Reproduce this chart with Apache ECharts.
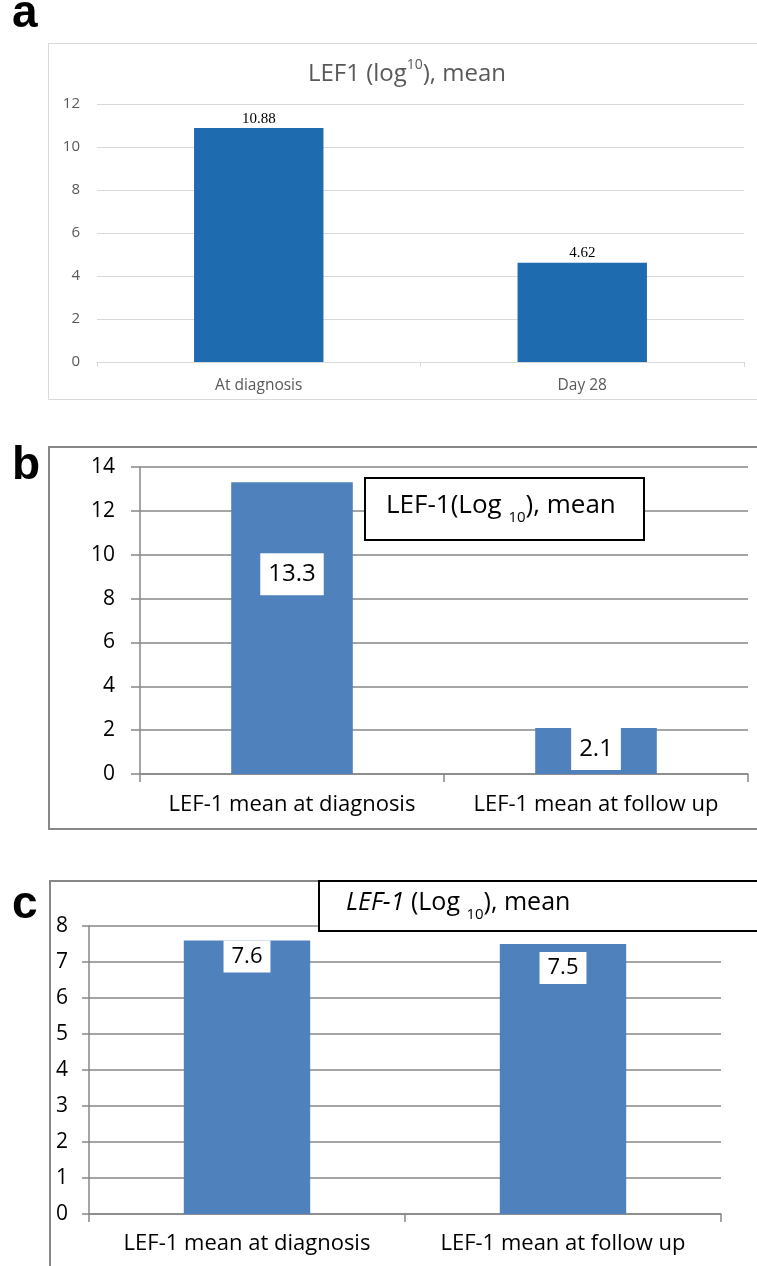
<!DOCTYPE html>
<html>
<head>
<meta charset="utf-8">
<script src="https://cdn.jsdelivr.net/npm/echarts@6/dist/echarts.min.js"></script>
<style>
html,body{margin:0;padding:0;background:#fff;}
#chart{width:757px;height:1266px;}
</style>
</head>
<body>
<div id="chart"></div>
<script>
// ---- Data ----
var catsA = ['At diagnosis', 'Day 28'];
var valsA = [10.88, 4.62];
var ticksA = [0, 2, 4, 6, 8, 10, 12];

var catsB = ['LEF-1 mean at diagnosis', 'LEF-1 mean at follow up'];
var valsB = [13.3, 2.1];
var ticksB = [0, 2, 4, 6, 8, 10, 12, 14];

var catsC = ['LEF-1 mean at diagnosis', 'LEF-1 mean at follow up'];
var valsC = [7.6, 7.5];
var ticksC = [0, 1, 2, 3, 4, 5, 6, 7, 8];

// label offsets (style, not data)
var labelDistB = [71, 0];
var labelDistC = [0, 8];

var SANS = '"Open Sans", "Noto Sans", sans-serif';
var chart = echarts.init(document.getElementById('chart'), null, {renderer: 'canvas'});

function boxedData(vals, dists, fs, pad) {
  return vals.map(function (v, i) {
    return {
      value: v,
      label: {
        show: true, position: 'insideTop', distance: dists[i],
        backgroundColor: '#fff', color: '#000', fontFamily: SANS,
        fontSize: fs, lineHeight: fs + 6, padding: pad
      }
    };
  });
}

var option = {
  animation: false,
  backgroundColor: '#fff',
  grid: [
    {left: 97, right: 13, top: 104, height: 258},
    {left: 140, right: 9, top: 467, height: 307},
    {left: 89, right: 36, top: 926, height: 288}
  ],
  xAxis: [
    {
      gridIndex: 0, type: 'category', data: catsA,
      axisLine: {lineStyle: {color: '#d9d9d9', width: 1}},
      axisTick: {show: true, length: 5, lineStyle: {color: '#d9d9d9'}},
      axisLabel: {interval: 0, color: '#595959', fontFamily: SANS, fontSize: 15.5, margin: 16}
    },
    {
      gridIndex: 1, type: 'category', data: catsB,
      axisLine: {lineStyle: {color: '#878787', width: 1.5}},
      axisTick: {show: true, length: 8, lineStyle: {color: '#878787', width: 1.5}},
      axisLabel: {interval: 0, color: '#000', fontFamily: SANS, fontSize: 22, margin: 20}
    },
    {
      gridIndex: 2, type: 'category', data: catsC,
      axisLine: {lineStyle: {color: '#878787', width: 1.5}},
      axisTick: {show: true, length: 8, lineStyle: {color: '#878787', width: 1.5}},
      axisLabel: {interval: 0, color: '#000', fontFamily: SANS, fontSize: 22, margin: 19}
    }
  ],
  yAxis: [
    {
      gridIndex: 0, type: 'value', min: ticksA[0], max: ticksA[ticksA.length - 1], interval: 2,
      axisLine: {show: false}, axisTick: {show: false},
      splitLine: {lineStyle: {color: '#d9d9d9', width: 1}},
      axisLabel: {color: '#595959', fontFamily: SANS, fontSize: 15, margin: 17}
    },
    {
      gridIndex: 1, type: 'value', min: ticksB[0], max: ticksB[ticksB.length - 1], interval: 2,
      axisLine: {show: true, lineStyle: {color: '#878787', width: 1.5}},
      axisTick: {show: true, length: 9, lineStyle: {color: '#878787', width: 1.5}},
      splitLine: {lineStyle: {color: '#878787', width: 1.5}},
      axisLabel: {color: '#000', fontFamily: SANS, fontSize: 21, margin: 25}
    },
    {
      gridIndex: 2, type: 'value', min: ticksC[0], max: ticksC[ticksC.length - 1], interval: 1,
      axisLine: {show: true, lineStyle: {color: '#878787', width: 1.5}},
      axisTick: {show: true, length: 7, lineStyle: {color: '#878787', width: 1.5}},
      splitLine: {lineStyle: {color: '#878787', width: 1.5}},
      axisLabel: {color: '#000', fontFamily: SANS, fontSize: 21, margin: 21}
    }
  ],
  series: [
    {
      type: 'bar', xAxisIndex: 0, yAxisIndex: 0, data: valsA, barWidth: '40%',
      itemStyle: {color: '#1f6bb0'},
      label: {show: true, position: 'top', distance: 2, color: '#000',
              fontFamily: '"Liberation Serif", "DejaVu Serif", serif', fontSize: 15}
    },
    {
      type: 'bar', xAxisIndex: 1, yAxisIndex: 1, barWidth: '40%',
      data: boxedData(valsB, labelDistB, 24, [6, 8, 6, 8]),
      itemStyle: {color: '#4f81bd'}
    },
    {
      type: 'bar', xAxisIndex: 2, yAxisIndex: 2, barWidth: '40%',
      data: boxedData(valsC, labelDistC, 22, [2, 8, 2, 8]),
      itemStyle: {color: '#4f81bd'}
    }
  ],
  graphic: [
    // panel frames
    {type: 'rect', z: -10, shape: {x: 48.5, y: 43.5, width: 740, height: 356},
     style: {fill: '#fff', stroke: '#d9d9d9', lineWidth: 1}},
    {type: 'rect', z: -10, shape: {x: 49, y: 447, width: 740, height: 382},
     style: {fill: '#fff', stroke: '#878787', lineWidth: 2}},
    {type: 'rect', z: -10, shape: {x: 50, y: 881, width: 740, height: 420},
     style: {fill: '#fff', stroke: '#878787', lineWidth: 2}},
    // panel letters
    {type: 'text', x: 12, y: 37, style: {text: 'a', fontFamily: '"Liberation Sans", Arial, sans-serif', fontWeight: 'bold', fontSize: 46, fill: '#000', verticalAlign: 'bottom'}},
    {type: 'text', x: 12, y: 443, style: {text: 'b', fontFamily: '"Liberation Sans", Arial, sans-serif', fontWeight: 'bold', fontSize: 46, fill: '#000', verticalAlign: 'alphabetic'}},
    {type: 'text', x: 12, y: 882, style: {text: 'c', fontFamily: '"Liberation Sans", Arial, sans-serif', fontWeight: 'bold', fontSize: 46, fill: '#000', verticalAlign: 'alphabetic'}},
    // title a
    {type: 'text', x: 407, y: 72, z: 10,
     style: {
       text: '{m|LEF1 (log}{s|10}{m|), mean}',
       align: 'center', verticalAlign: 'middle',
       rich: {
         m: {fontFamily: SANS, fontSize: 24, lineHeight: 28, fill: '#595959', color: '#595959', verticalAlign: 'bottom'},
         s: {fontFamily: SANS, fontSize: 14, lineHeight: 17, fill: '#595959', color: '#595959', verticalAlign: 'top'}
       }
     }},
    // title b box
    {type: 'rect', z: 10, shape: {x: 365, y: 478, width: 279, height: 62},
     style: {fill: '#fff', stroke: '#000', lineWidth: 2}},
    {type: 'text', x: 386, y: 509, z: 11,
     style: {
       text: '{m|LEF-1(Log }{s|10}{m|), mean}',
       align: 'left', verticalAlign: 'middle',
       rich: {
         m: {fontFamily: SANS, fontSize: 26, lineHeight: 32, fill: '#000', color: '#000', verticalAlign: 'top'},
         s: {fontFamily: SANS, fontSize: 15, lineHeight: 21, fill: '#000', color: '#000', verticalAlign: 'bottom'}
       }
     }},
    // title c box
    {type: 'rect', z: 10, shape: {x: 319, y: 881, width: 460, height: 50},
     style: {fill: '#fff', stroke: '#000', lineWidth: 2}},
    {type: 'text', x: 346, y: 906, z: 11,
     style: {
       text: '{i|LEF-1}{m| (Log }{s|10}{m|), mean}',
       align: 'left', verticalAlign: 'middle',
       rich: {
         i: {fontFamily: SANS, fontStyle: 'italic', fontSize: 25, lineHeight: 32, fill: '#000', color: '#000', verticalAlign: 'top'},
         m: {fontFamily: SANS, fontSize: 25, lineHeight: 32, fill: '#000', color: '#000', verticalAlign: 'top'},
         s: {fontFamily: SANS, fontSize: 15, lineHeight: 21, fill: '#000', color: '#000', verticalAlign: 'bottom'}
       }
     }}
  ]
};
chart.setOption(option);
</script>
</body>
</html>
